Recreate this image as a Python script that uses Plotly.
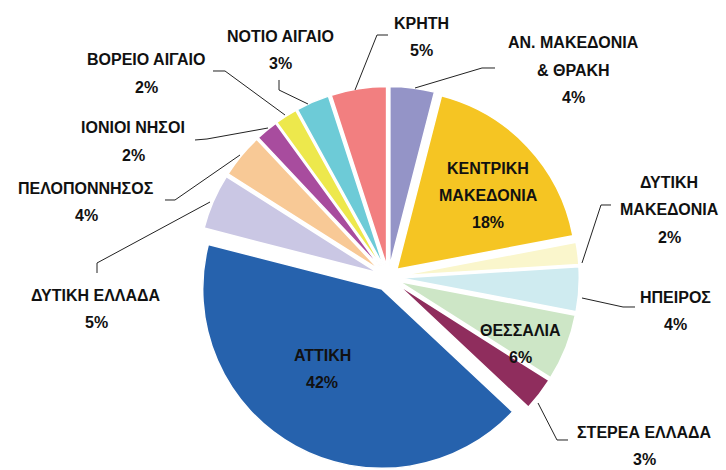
import plotly.graph_objects as go

# ---- data ----
regions = ["ΑΝ. ΜΑΚΕΔΟΝΙΑ & ΘΡΑΚΗ", "ΚΕΝΤΡΙΚΗ ΜΑΚΕΔΟΝΙΑ", "ΔΥΤΙΚΗ ΜΑΚΕΔΟΝΙΑ", "ΗΠΕΙΡΟΣ",
           "ΘΕΣΣΑΛΙΑ", "ΣΤΕΡΕΑ ΕΛΛΑΔΑ", "ΑΤΤΙΚΗ", "ΔΥΤΙΚΗ ΕΛΛΑΔΑ", "ΠΕΛΟΠΟΝΝΗΣΟΣ",
           "ΙΟΝΙΟΙ ΝΗΣΟΙ", "ΒΟΡΕΙΟ ΑΙΓΑΙΟ", "ΝΟΤΙΟ ΑΙΓΑΙΟ", "ΚΡΗΤΗ"]
label_lines = [["ΑΝ. ΜΑΚΕΔΟΝΙΑ", "& ΘΡΑΚΗ"], ["ΚΕΝΤΡΙΚΗ", "ΜΑΚΕΔΟΝΙΑ"], ["ΔΥΤΙΚΗ", "ΜΑΚΕΔΟΝΙΑ"],
               ["ΗΠΕΙΡΟΣ"], ["ΘΕΣΣΑΛΙΑ"], ["ΣΤΕΡΕΑ ΕΛΛΑΔΑ"], ["ΑΤΤΙΚΗ"], ["ΔΥΤΙΚΗ ΕΛΛΑΔΑ"],
               ["ΠΕΛΟΠΟΝΝΗΣΟΣ"], ["ΙΟΝΙΟΙ ΝΗΣΟΙ"], ["ΒΟΡΕΙΟ ΑΙΓΑΙΟ"], ["ΝΟΤΙΟ ΑΙΓΑΙΟ"], ["ΚΡΗΤΗ"]]
shares = [4, 18, 2, 4, 6, 3, 42, 5, 4, 2, 2, 3, 5]

colors = ["#9494C7", "#F5C523", "#FAF6CC", "#CFEBF0", "#CDE6C6", "#8F2D5D", "#2662AD",
          "#CAC7E4", "#F8C996", "#A84C9E", "#EDE84C", "#6DCBD7", "#F27F80"]
pulls = [0.065, 0.065, 0.065, 0.065, 0.065, 0.065, 0.075, 0.065, 0.065, 0.065, 0.065, 0.065, 0.065]

# label placement (pixel centres of first line) and leader lines
label_pos = [(573, 43), (488, 168), (669, 182), (675, 297), (520, 330), (644, 432), (322, 355),
             (96, 295), (86, 188), (133, 128), (146, 60), (280, 36), (421, 23)]
leaders = [
    [(415, 88), (482, 68), (495, 68)],
    None,
    [(582, 263), (601, 205), (611, 205)],
    [(582, 298), (623, 307), (635, 307)],
    None,
    [(538, 403), (557, 440), (568, 440)],
    None,
    [(210, 202), (97, 263), (97, 273)],
    [(240, 155), (175, 200), (165, 200)],
    [(268, 128), (207, 139), (195, 140)],
    [(285, 115), (225, 71), (213, 71)],
    [(308, 104), (279, 90), (279, 80)],
    [(355, 90), (377, 35), (388, 35)],
]

W, H = 726, 470
FONT = "'Liberation Sans', Arial, sans-serif"
LINE_GAP = 27.5


def px(x, y):
    return x / W, 1 - y / H


fig = go.Figure(go.Pie(
    labels=regions, values=shares, sort=False, direction="clockwise", rotation=0,
    marker=dict(colors=colors, line=dict(color="white", width=1.5)),
    pull=pulls, textinfo="none", hoverinfo="label+percent",
    domain=dict(x=[0.26, 0.81], y=[0.0, 0.82]), showlegend=False,
))

annotations = []
for lines, val, (cx, cy) in zip(label_lines, shares, label_pos):
    all_lines = lines + [f"{val}%"]
    for i, t in enumerate(all_lines):
        x, y = px(cx, cy + i * LINE_GAP)
        annotations.append(dict(x=x, y=y, xref="paper", yref="paper", text=f"<b>{t}</b>",
                                showarrow=False, xanchor="center", yanchor="middle",
                                font=dict(family=FONT, size=16, color="#111111")))

shapes = []
for pts in leaders:
    if not pts:
        continue
    p = [px(*q) for q in pts]
    path = "M " + " L ".join(f"{a:.5f},{b:.5f}" for a, b in p)
    shapes.append(dict(type="path", path=path, xref="paper", yref="paper",
                       line=dict(color="#222222", width=1)))

fig.update_layout(width=W, height=H, margin=dict(l=0, r=0, t=0, b=0),
                  paper_bgcolor="white", plot_bgcolor="white",
                  annotations=annotations, shapes=shapes)

fig.write_html("out.html", config={"displayModeBar": False},
               post_script="document.body.style.margin='0';document.body.style.overflow='hidden';")
